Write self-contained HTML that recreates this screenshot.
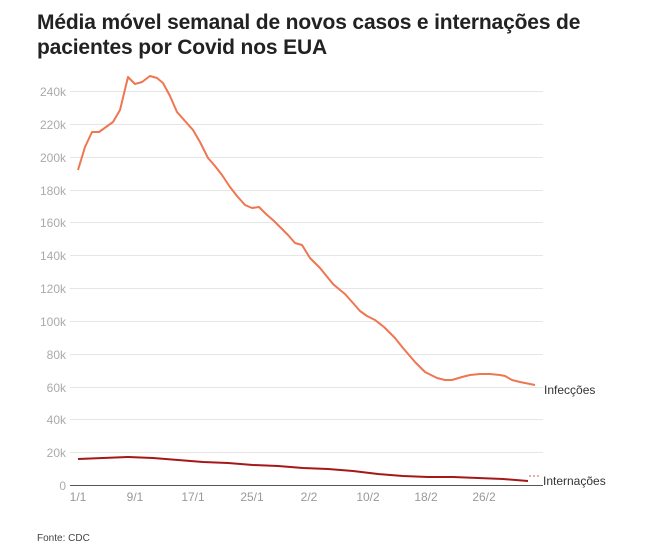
<!DOCTYPE html>
<html><head><meta charset="utf-8"><style>
body{margin:0;background:#fff;width:663px;height:548px;overflow:hidden;font-family:"Liberation Sans",sans-serif}
</style></head><body>
<svg width="663" height="548" xmlns="http://www.w3.org/2000/svg" style="position:absolute;left:0;top:0">
<text x="37" y="29" font-size="21" font-weight="bold" fill="#222" letter-spacing="-0.15">Média móvel semanal de novos casos e internações de</text>
<text x="37" y="54" font-size="21" font-weight="bold" fill="#222" letter-spacing="-0.15">pacientes por Covid nos EUA</text>
<g stroke="#e6e6e6" stroke-width="1">
<line x1="70" x2="543" y1="91.5" y2="91.5"/><line x1="70" x2="543" y1="124.5" y2="124.5"/><line x1="70" x2="543" y1="157.5" y2="157.5"/><line x1="70" x2="543" y1="190.5" y2="190.5"/><line x1="70" x2="543" y1="222.5" y2="222.5"/><line x1="70" x2="543" y1="255.5" y2="255.5"/><line x1="70" x2="543" y1="288.5" y2="288.5"/><line x1="70" x2="543" y1="321.5" y2="321.5"/><line x1="70" x2="543" y1="354.5" y2="354.5"/><line x1="70" x2="543" y1="387.5" y2="387.5"/><line x1="70" x2="543" y1="419.5" y2="419.5"/><line x1="70" x2="543" y1="452.5" y2="452.5"/>
</g>
<line x1="70" x2="543" y1="485.5" y2="485.5" stroke="#555" stroke-width="1"/>
<g font-size="12" fill="#aaa" text-anchor="end">
<text x="66" y="96">240k</text><text x="66" y="129">220k</text><text x="66" y="162">200k</text><text x="66" y="195">180k</text><text x="66" y="227">160k</text><text x="66" y="260">140k</text><text x="66" y="293">120k</text><text x="66" y="326">100k</text><text x="66" y="359">80k</text><text x="66" y="392">60k</text><text x="66" y="424">40k</text><text x="66" y="457">20k</text><text x="66" y="490">0</text>
</g>
<g font-size="12" fill="#999" text-anchor="middle">
<text x="78" y="501">1/1</text><text x="135" y="501">9/1</text><text x="193" y="501">17/1</text><text x="252" y="501">25/1</text><text x="309" y="501">2/2</text><text x="368" y="501">10/2</text><text x="426" y="501">18/2</text><text x="484" y="501">26/2</text>
</g>
<polyline fill="none" stroke="#ef7650" stroke-width="2" stroke-linejoin="round" points="78,170 85,147 92,132 99,132 106,127 113,122 120,110 128,77 135,84 142,82 150,76 157,78 163,83 170,96 177,112 185,121 193,130 200,142 208,158 215,166 222,175 230,187 237,196 245,205 252,208 259,207 266,214 274,221 281,228 288,235 295,243 302,245 310,258 320,268 333,284 340,290 345,294 353,303 360,311 367,316 375,320 384,327 395,338 403,348 415,362 425,372 437,378 445,380 452,380 462,377 470,375 480,374 490,374 500,375 505,376 512,380 520,382 535,385"/>
<polyline fill="none" stroke="#a51818" stroke-width="2" stroke-linejoin="round" points="78,459 103,458 128,457 153,458 178,460 203,462 228,463 253,465 278,466 303,468 328,469 353,471 378,474 403,476 428,477 453,477 478,478 503,479 528,481"/>
<line x1="529" x2="541" y1="476" y2="476" stroke="#e05050" stroke-width="1" stroke-dasharray="2,2"/>
<text x="544" y="394" font-size="12" fill="#333">Infecções</text>
<text x="543" y="485" font-size="12" fill="#333">Internações</text>
<text x="37" y="541" font-size="10" fill="#444">Fonte: CDC</text>
</svg>
</body></html>
